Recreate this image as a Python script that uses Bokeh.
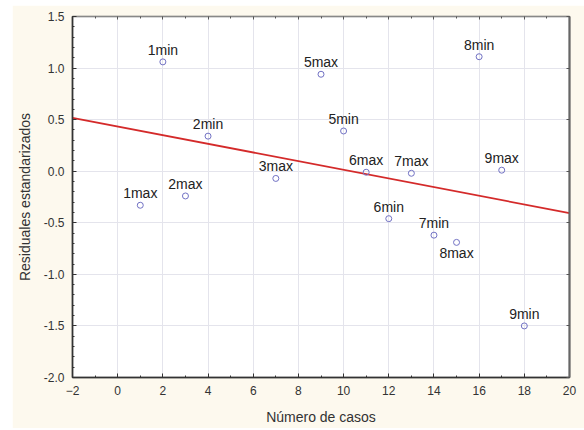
from bokeh.plotting import figure
from bokeh.models import (Range1d, FixedTicker, LinearAxis, NumeralTickFormatter,
                          ColumnDataSource, LabelSet, CustomJSTickFormatter)
from bokeh.core.properties import value
from bokeh.embed import file_html
from bokeh.resources import INLINE

# ---- data ----
case_labels = ["1max", "1min", "2max", "2min", "3max", "5max", "5min", "6max",
               "6min", "7max", "7min", "8max", "8min", "9max", "9min"]
case_x = [1, 2, 3, 4, 7, 9, 10, 11, 12, 13, 14, 15, 16, 17, 18]
residuals = [-0.33, 1.06, -0.24, 0.34, -0.07, 0.94, 0.39, -0.01,
             -0.46, -0.02, -0.62, -0.69, 1.11, 0.01, -1.50]
below_label = ["8max"]
fit_intercept = 0.434
fit_slope = -0.042
x_ticks = [-2, 0, 2, 4, 6, 8, 10, 12, 14, 16, 18, 20]
y_ticks = [-2.0, -1.5, -1.0, -0.5, 0.0, 0.5, 1.0, 1.5]

CREAM = "#fdf9ee"
FONT = "Liberation Sans"

p = figure(width=572, height=423, output_backend="svg", toolbar_location=None,
           x_range=Range1d(-2, 20), y_range=Range1d(-2, 1.5),
           min_border_left=60, min_border_right=15, min_border_top=11,
           min_border_bottom=51, background_fill_color="white",
           border_fill_color=CREAM, outline_line_color="#666666",
           outline_line_width=1.5)
p.margin = (5, 0, 2, 12)

# axes
xminor = [v for v in range(-2, 21) if v % 2 != 0]
yminor = [round(-2 + 0.1 * i, 1) for i in range(36)]
p.xaxis.ticker = FixedTicker(ticks=x_ticks, minor_ticks=xminor)
p.yaxis.ticker = FixedTicker(ticks=y_ticks, minor_ticks=yminor)
p.yaxis.formatter = NumeralTickFormatter(format="0.0")

for ax in (p.xaxis[0], p.yaxis[0]):
    ax.axis_line_color = "#333333"
    ax.axis_line_width = 1.5
    ax.major_tick_line_color = "#333333"
    ax.minor_tick_line_color = "#333333"
    ax.major_tick_in = 4
    ax.major_tick_out = 0
    ax.minor_tick_in = 2
    ax.minor_tick_out = 0
    ax.major_label_text_font = FONT
    ax.major_label_text_font_size = "12px"
    ax.major_label_text_color = "#333333"
    ax.major_label_standoff = 8
    ax.axis_label_text_font = FONT
    ax.axis_label_text_font_size = "14px"
    ax.axis_label_text_font_style = "normal"
    ax.axis_label_text_color = "#333333"

p.xaxis.axis_label = "Número de casos"
p.xaxis.axis_label_standoff = 11
p.yaxis.axis_label = "Residuales estandarizados"
p.yaxis.axis_label_standoff = 8

blank = CustomJSTickFormatter(code="return '';")
top_ax = LinearAxis(ticker=FixedTicker(ticks=x_ticks, minor_ticks=xminor),
                    formatter=blank, major_label_standoff=0,
                    major_tick_in=3, major_tick_out=0, minor_tick_in=2, minor_tick_out=0,
                    axis_line_color="#888888", major_tick_line_color="#555555",
                    minor_tick_line_color="#555555")
right_ax = LinearAxis(ticker=FixedTicker(ticks=y_ticks, minor_ticks=[]),
                      formatter=blank, major_label_standoff=0,
                      major_tick_in=3, major_tick_out=0,
                      axis_line_color="#666666", axis_line_width=2,
                      major_tick_line_color="#555555")
p.add_layout(top_ax, "above")
p.add_layout(right_ax, "right")

p.xgrid.ticker = FixedTicker(ticks=x_ticks)
p.ygrid.ticker = FixedTicker(ticks=y_ticks)
p.grid.grid_line_color = "#e4e4ec"
p.grid.grid_line_width = 1

# regression line across the x range
xr = [p.x_range.start, p.x_range.end]
yr = [fit_intercept + fit_slope * v for v in xr]
p.line(xr, yr, line_color="#d42a2a", line_width=1.8)

# points
src = ColumnDataSource(dict(x=case_x, y=residuals, lab=case_labels))
p.scatter("x", "y", source=src, marker="circle", size=6, fill_color=None,
          line_color="#7272c4", line_width=1)

above = dict(x=[], y=[], lab=[])
below = dict(x=[], y=[], lab=[])
for xv, yv, lb in zip(case_x, residuals, case_labels):
    d = below if lb in below_label else above
    d["x"].append(xv); d["y"].append(yv); d["lab"].append(lb)

p.add_layout(LabelSet(x="x", y="y", text="lab", source=ColumnDataSource(above),
                      text_align="center", text_baseline="alphabetic", y_offset=7,
                      text_font=value(FONT), text_font_size="14px", text_color="#222222"))
p.add_layout(LabelSet(x="x", y="y", text="lab", source=ColumnDataSource(below),
                      text_align="center", text_baseline="top", y_offset=-3,
                      text_font=value(FONT), text_font_size="14px", text_color="#222222"))

open("out.html", "w").write(file_html(p, INLINE))
